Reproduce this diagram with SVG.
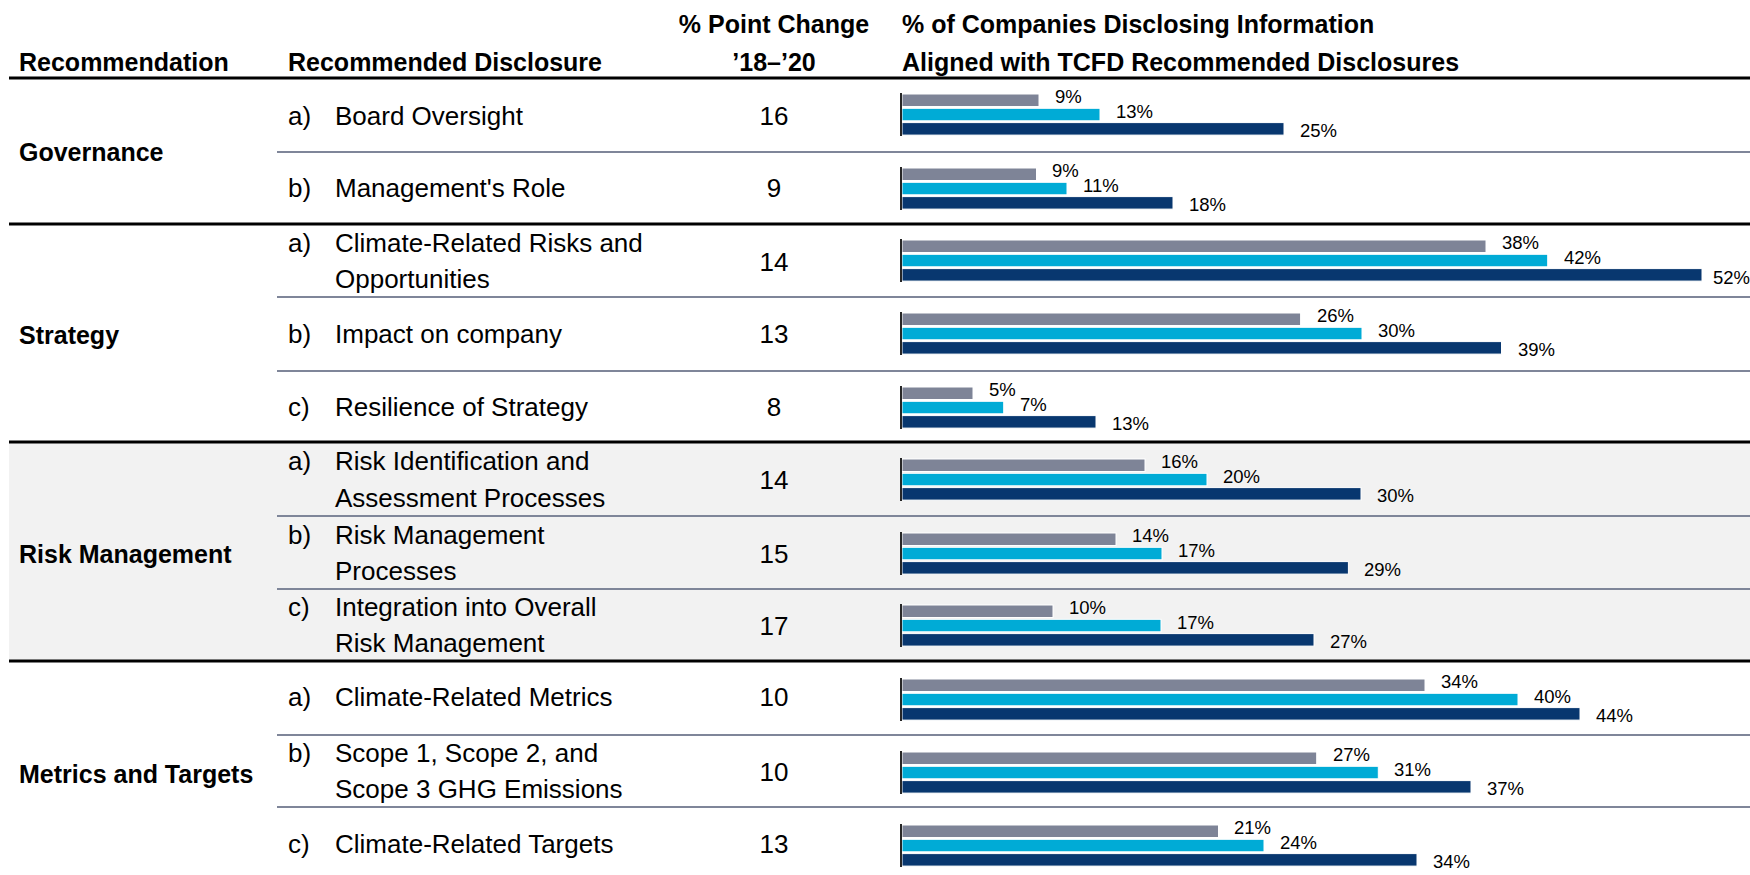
<svg xmlns="http://www.w3.org/2000/svg" width="1750" height="875" viewBox="0 0 1750 875">
<style>
text{font-family:"Liberation Sans",Arial,sans-serif;fill:#000}
.h{font-weight:bold;font-size:25px}
.t{font-size:26px}
.n{font-size:26px;text-anchor:middle}
.p{font-size:18.5px}
.g{fill:#7e8497;stroke:#fff;stroke-width:1}
.c{fill:#00abd6;stroke:#fff;stroke-width:1}
.v{fill:#08376f;stroke:#fff;stroke-width:1}
.ax{stroke:#262626;stroke-width:2}
.thick{stroke:#000;stroke-width:3}
.sep{stroke:#7f8699;stroke-width:2}
</style>
<rect id="risk-bg" x="9" y="442" width="1741" height="219" fill="#f2f2f2"/>
<g id="header">
<text class="h" x="19" y="71">Recommendation</text>
<text class="h" x="288" y="71">Recommended Disclosure</text>
<text class="h" x="774" y="33" text-anchor="middle">% Point Change</text>
<text class="h" x="774" y="71" text-anchor="middle">’18–’20</text>
<text class="h" x="902" y="33">% of Companies Disclosing Information</text>
<text class="h" x="902" y="71">Aligned with TCFD Recommended Disclosures</text>
</g>
<g id="connectors">
<line class="thick" x1="9" y1="78" x2="1750" y2="78"/>
<line class="thick" x1="9" y1="224" x2="1750" y2="224"/>
<line class="thick" x1="9" y1="442" x2="1750" y2="442"/>
<line class="thick" x1="9" y1="661" x2="1750" y2="661"/>
<line class="sep" x1="277" y1="152" x2="1750" y2="152"/>
<line class="sep" x1="277" y1="297" x2="1750" y2="297"/>
<line class="sep" x1="277" y1="371" x2="1750" y2="371"/>
<line class="sep" x1="277" y1="516" x2="1750" y2="516"/>
<line class="sep" x1="277" y1="589" x2="1750" y2="589"/>
<line class="sep" x1="277" y1="735" x2="1750" y2="735"/>
<line class="sep" x1="277" y1="807" x2="1750" y2="807"/>
</g>
<g id="groups">
<text class="h" x="19" y="161">Governance</text>
<text class="h" x="19" y="344">Strategy</text>
<text class="h" x="19" y="563">Risk Management</text>
<text class="h" x="19" y="783">Metrics and Targets</text>
</g>
<g id="gov-a">
<text class="t" x="288" y="125">a)</text><text class="t" x="335" y="125">Board Oversight</text>
<text class="n" x="774" y="125">16</text>
<rect class="g" x="902" y="94" width="137" height="12.5"/><rect class="c" x="902" y="108.3" width="198" height="12.5"/><rect class="v" x="902" y="122.6" width="382" height="12.5"/>
<line class="ax" x1="901" y1="93" x2="901" y2="136"/>
<text class="p" x="1055" y="103.3">9%</text><text class="p" x="1116" y="117.7">13%</text><text class="p" x="1300" y="136.5">25%</text>
</g>
<g id="gov-b">
<text class="t" x="288" y="197">b)</text><text class="t" x="335" y="197">Management's Role</text>
<text class="n" x="774" y="197">9</text>
<rect class="g" x="902" y="168" width="134.5" height="12.5"/><rect class="c" x="902" y="182.3" width="165" height="12.5"/><rect class="v" x="902" y="196.6" width="271" height="12.5"/>
<line class="ax" x1="901" y1="167" x2="901" y2="210"/>
<text class="p" x="1052" y="177.3">9%</text><text class="p" x="1083" y="191.7">11%</text><text class="p" x="1189" y="210.5">18%</text>
</g>
<g id="strat-a">
<text class="t" x="288" y="252">a)</text><text class="t" x="335" y="252">Climate-Related Risks and</text><text class="t" x="335" y="288">Opportunities</text>
<text class="n" x="774" y="271">14</text>
<rect class="g" x="902" y="240" width="584" height="12.5"/><rect class="c" x="902" y="254.3" width="645.7" height="12.5"/><rect class="v" x="902" y="268.6" width="800" height="12.5"/>
<line class="ax" x1="901" y1="239" x2="901" y2="282"/>
<text class="p" x="1502" y="249.3">38%</text><text class="p" x="1564" y="263.7">42%</text><text class="p" x="1713" y="284">52%</text>
</g>
<g id="strat-b">
<text class="t" x="288" y="343">b)</text><text class="t" x="335" y="343">Impact on company</text>
<text class="n" x="774" y="343">13</text>
<rect class="g" x="902" y="313" width="398.6" height="12.5"/><rect class="c" x="902" y="327.3" width="460" height="12.5"/><rect class="v" x="902" y="341.6" width="599.5" height="12.5"/>
<line class="ax" x1="901" y1="312" x2="901" y2="355"/>
<text class="p" x="1317" y="322.3">26%</text><text class="p" x="1378" y="336.7">30%</text><text class="p" x="1518" y="355.5">39%</text>
</g>
<g id="strat-c">
<text class="t" x="288" y="416">c)</text><text class="t" x="335" y="416">Resilience of Strategy</text>
<text class="n" x="774" y="416">8</text>
<rect class="g" x="902" y="387" width="71" height="12.5"/><rect class="c" x="902" y="401.3" width="101.7" height="12.5"/><rect class="v" x="902" y="415.6" width="194" height="12.5"/>
<line class="ax" x1="901" y1="386" x2="901" y2="429"/>
<text class="p" x="989" y="396.3">5%</text><text class="p" x="1020" y="410.7">7%</text><text class="p" x="1112" y="429.5">13%</text>
</g>
<g id="risk-a">
<text class="t" x="288" y="470">a)</text><text class="t" x="335" y="470">Risk Identification and</text><text class="t" x="335" y="507">Assessment Processes</text>
<text class="n" x="774" y="489">14</text>
<rect class="g" x="902" y="459" width="243" height="12.5"/><rect class="c" x="902" y="473.3" width="305" height="12.5"/><rect class="v" x="902" y="487.6" width="459" height="12.5"/>
<line class="ax" x1="901" y1="458" x2="901" y2="501"/>
<text class="p" x="1161" y="468.3">16%</text><text class="p" x="1223" y="482.7">20%</text><text class="p" x="1377" y="501.5">30%</text>
</g>
<g id="risk-b">
<text class="t" x="288" y="544">b)</text><text class="t" x="335" y="544">Risk Management</text><text class="t" x="335" y="580">Processes</text>
<text class="n" x="774" y="563">15</text>
<rect class="g" x="902" y="533" width="214" height="12.5"/><rect class="c" x="902" y="547.3" width="260" height="12.5"/><rect class="v" x="902" y="561.6" width="446.4" height="12.5"/>
<line class="ax" x1="901" y1="532" x2="901" y2="575"/>
<text class="p" x="1132" y="542.3">14%</text><text class="p" x="1178" y="556.7">17%</text><text class="p" x="1364" y="575.5">29%</text>
</g>
<g id="risk-c">
<text class="t" x="288" y="616">c)</text><text class="t" x="335" y="616">Integration into Overall</text><text class="t" x="335" y="652">Risk Management</text>
<text class="n" x="774" y="635">17</text>
<rect class="g" x="902" y="605" width="151" height="12.5"/><rect class="c" x="902" y="619.3" width="259" height="12.5"/><rect class="v" x="902" y="633.6" width="412" height="12.5"/>
<line class="ax" x1="901" y1="604" x2="901" y2="647"/>
<text class="p" x="1069" y="614.3">10%</text><text class="p" x="1177" y="628.7">17%</text><text class="p" x="1330" y="647.5">27%</text>
</g>
<g id="metrics-a">
<text class="t" x="288" y="706">a)</text><text class="t" x="335" y="706">Climate-Related Metrics</text>
<text class="n" x="774" y="706">10</text>
<rect class="g" x="902" y="679" width="523" height="12.5"/><rect class="c" x="902" y="693.3" width="616" height="12.5"/><rect class="v" x="902" y="707.6" width="678" height="12.5"/>
<line class="ax" x1="901" y1="678" x2="901" y2="721"/>
<text class="p" x="1441" y="688.3">34%</text><text class="p" x="1534" y="702.7">40%</text><text class="p" x="1596" y="721.5">44%</text>
</g>
<g id="metrics-b">
<text class="t" x="288" y="762">b)</text><text class="t" x="335" y="762">Scope 1, Scope 2, and</text><text class="t" x="335" y="798">Scope 3 GHG Emissions</text>
<text class="n" x="774" y="781">10</text>
<rect class="g" x="902" y="752" width="414.7" height="12.5"/><rect class="c" x="902" y="766.3" width="476.3" height="12.5"/><rect class="v" x="902" y="780.6" width="569" height="12.5"/>
<line class="ax" x1="901" y1="751" x2="901" y2="794"/>
<text class="p" x="1333" y="761.3">27%</text><text class="p" x="1394" y="775.7">31%</text><text class="p" x="1487" y="794.5">37%</text>
</g>
<g id="metrics-c">
<text class="t" x="288" y="853">c)</text><text class="t" x="335" y="853">Climate-Related Targets</text>
<text class="n" x="774" y="853">13</text>
<rect class="g" x="902" y="825" width="316.5" height="12.5"/><rect class="c" x="902" y="839.3" width="362" height="12.5"/><rect class="v" x="902" y="853.6" width="515" height="12.5"/>
<line class="ax" x1="901" y1="824" x2="901" y2="867"/>
<text class="p" x="1234" y="834.3">21%</text><text class="p" x="1280" y="848.7">24%</text><text class="p" x="1433" y="867.5">34%</text>
</g>
</svg>
